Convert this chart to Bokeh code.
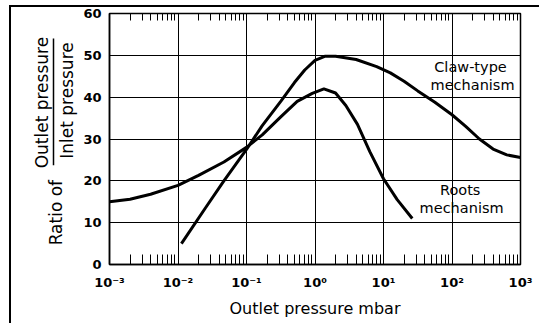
from bokeh.plotting import figure
from bokeh.models import (FixedTicker, LogAxis, Label, CustomJSTickFormatter, Range1d)
from bokeh.layouts import row
from bokeh.core.properties import value
from bokeh.embed import file_html
from bokeh.resources import INLINE
from math import pi

# ---- data (log10 of outlet pressure in mbar -> ratio) ----
claw_x = [-1.95, -1.6, -1.33, -1.0, -0.77, -0.5, -0.3, -0.15, 0.0, 0.15, 0.3, 0.6, 0.9, 1.1, 1.3, 1.5, 1.75, 2.0, 2.2, 2.4, 2.6, 2.8, 3.0]
claw_y = [5.0, 13.5, 20.0, 27.5, 33.2, 39.0, 43.5, 46.5, 48.8, 49.8, 49.8, 49.0, 47.3, 45.8, 43.8, 41.5, 38.8, 35.8, 33.0, 30.0, 27.6, 26.2, 25.6]
roots_x = [-3.0, -2.7, -2.4, -2.0, -1.7, -1.33, -1.0, -0.77, -0.5, -0.26, -0.04, 0.13, 0.3, 0.45, 0.62, 0.8, 1.0, 1.2, 1.42]
roots_y = [15.0, 15.6, 16.8, 18.9, 21.3, 24.5, 28.0, 31.0, 35.3, 39.0, 40.9, 42.0, 41.0, 38.0, 33.5, 27.0, 20.5, 15.5, 11.0]

x_ticks = [1e-3, 1e-2, 1e-1, 1e0, 1e1, 1e2, 1e3]
x_minor = [m * 10.0 ** e for e in range(-3, 3) for m in range(2, 10)]
y_ticks = [0, 10, 20, 30, 40, 50, 60]

y_label_lead = "Ratio of"
y_label_num = "Outlet pressure"
y_label_den = "Inlet pressure"
x_label = "Outlet pressure mbar"

FONT = "DejaVu Sans"
H = 316
Y_RANGE = (0, 60)
LW = 68

# ---- left strip holding the fraction-style y-axis title (frame aligns with main frame) ----
lft = figure(width=LW, height=H, x_range=Range1d(0, LW), y_range=Range1d(*Y_RANGE),
             output_backend="svg", toolbar_location=None,
             x_axis_location=None, y_axis_location=None, min_border=0)
lft.outline_line_color = None
lft.xgrid.visible = False
lft.ygrid.visible = False
lab_kw = dict(angle=pi / 2, text_font=value(FONT), text_font_size="17px",
              text_align="center", text_baseline="middle", text_color="black")
lft.text(x=[44], y=[12.4], text=[y_label_lead], **lab_kw)
lft.text(x=[30], y=[38.7], text=[y_label_num], **lab_kw)
lft.text(x=[55], y=[39.2], text=[y_label_den], **lab_kw)
lft.segment(x0=[42], y0=[23.7], x1=[42], y1=[54.0], line_color="black", line_width=1.5)

# ---- main chart ----
p = figure(width=460, height=H, x_axis_type="log", x_range=(1e-3, 1e3), y_range=Y_RANGE,
           output_backend="svg", toolbar_location=None,
           min_border_left=30, min_border_right=19, min_border_top=6, min_border_bottom=59)
p.outline_line_color = "black"
p.outline_line_width = 1.5

ticker = FixedTicker(ticks=x_ticks, minor_ticks=x_minor)
fmt = CustomJSTickFormatter(code="""
const sup = {"-":"\u207b","0":"\u2070","1":"\u00b9","2":"\u00b2","3":"\u00b3"};
const e = Math.round(Math.log10(tick));
let s = "";
for (const c of String(e)) s += sup[c];
return "10" + s;
""")

xa = p.xaxis[0]
xa.ticker = ticker
xa.formatter = fmt
xa.major_tick_in = 0
xa.major_tick_out = 0
xa.minor_tick_in = 10
xa.minor_tick_out = 0
xa.minor_tick_line_color = "black"
xa.axis_line_color = "black"
xa.axis_line_width = 1.5
xa.major_label_text_font = FONT
xa.major_label_text_font_style = "bold"
xa.major_label_text_font_size = "13px"
xa.major_label_text_color = "black"
xa.major_label_standoff = 10
xa.axis_label = x_label
xa.axis_label_text_font = FONT
xa.axis_label_text_font_style = "normal"
xa.axis_label_text_font_size = "16px"
xa.axis_label_text_color = "black"
xa.axis_label_standoff = 6

top = LogAxis(ticker=FixedTicker(ticks=x_ticks, minor_ticks=x_minor),
              formatter=CustomJSTickFormatter(code="return '';"))
top.major_tick_in = 0
top.major_tick_out = 0
top.major_label_standoff = 0
top.minor_tick_in = 7
top.minor_tick_out = 0
top.axis_line_color = "black"
top.minor_tick_line_color = "black"
p.add_layout(top, "above")

ya = p.yaxis[0]
ya.ticker = FixedTicker(ticks=y_ticks)
ya.major_tick_in = 0
ya.major_tick_out = 0
ya.minor_tick_line_color = None
ya.axis_line_color = "black"
ya.axis_line_width = 1.5
ya.major_label_text_font = FONT
ya.major_label_text_font_style = "bold"
ya.major_label_text_font_size = "13px"
ya.major_label_text_color = "black"
ya.major_label_standoff = 8

p.xgrid.ticker = ticker
p.xgrid.grid_line_color = "black"
p.xgrid.grid_line_alpha = 1
p.xgrid.grid_line_width = 1
p.ygrid.grid_line_color = "black"
p.ygrid.grid_line_alpha = 1
p.ygrid.grid_line_width = 1

p.line([10 ** v for v in claw_x], claw_y, line_color="black", line_width=3)
p.line([10 ** v for v in roots_x], roots_y, line_color="black", line_width=3)

def txt(x, y, s):
    p.add_layout(Label(x=x, y=y, text=s, text_font=FONT, text_font_size="14.5px",
                       text_color="black", text_align="center", text_baseline="middle"))

txt(10 ** 2.27, 47.1, "Claw-type")
txt(10 ** 2.30, 42.8, "mechanism")
txt(10 ** 2.12, 17.7, "Roots")
txt(10 ** 2.14, 13.4, "mechanism")

page = row(lft, p, styles={"border-left": "2px solid black", "border-top": "2px solid black",
                           "margin-left": "9px", "margin-top": "5px"})
open("out.html", "w").write(file_html(page, INLINE))
